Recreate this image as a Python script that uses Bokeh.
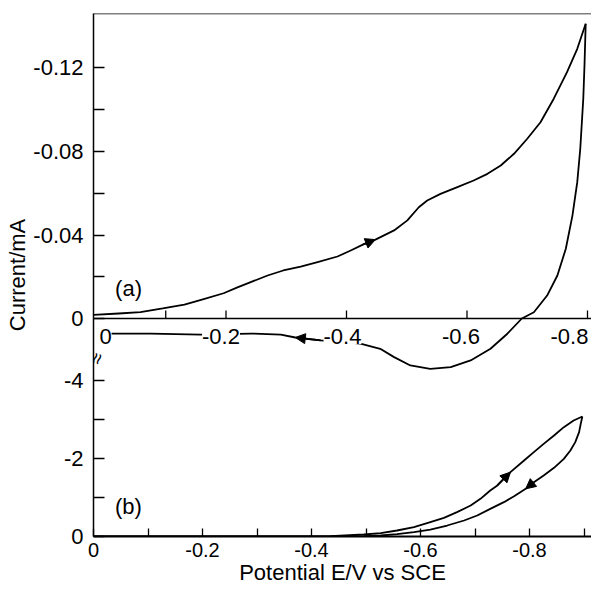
import math
from bokeh.plotting import figure
from bokeh.models import (Range1d, FixedTicker, Span, Label, LabelSet,
                          ColumnDataSource, Arrow, NormalHead)
from bokeh.core.properties import value
from bokeh.embed import file_html
from bokeh.resources import INLINE

# ---------------- data (potential in V vs SCE, current in mA) ----------------
# panel (a): forward scan 0 -> -0.8 V
a_fwd_E = [0.020, -0.022, -0.058, -0.095, -0.131, -0.163, -0.196, -0.219, -0.241,
           -0.269, -0.295, -0.324, -0.352, -0.385, -0.407, -0.428, -0.448, -0.479,
           -0.501, -0.520, -0.534, -0.556, -0.584, -0.611, -0.634, -0.656, -0.678,
           -0.700, -0.722, -0.744, -0.766, -0.783, -0.797]
a_fwd_I = [-0.0017, -0.0024, -0.0031, -0.0048, -0.0067, -0.0093, -0.0121, -0.0149,
           -0.0174, -0.0206, -0.0230, -0.0249, -0.0270, -0.0297, -0.0326, -0.0355,
           -0.0378, -0.0422, -0.0470, -0.0533, -0.0565, -0.0597, -0.0629, -0.0661,
           -0.0693, -0.0733, -0.0789, -0.0861, -0.0940, -0.1053, -0.1180, -0.1292,
           -0.1412]
# panel (a): reverse scan -0.8 -> 0 V
a_rev_E = [-0.797, -0.795, -0.793, -0.788, -0.783, -0.775, -0.764, -0.750, -0.733,
           -0.711, -0.691, -0.667, -0.639, -0.606, -0.573, -0.539, -0.506, -0.479,
           -0.456, -0.423, -0.357, -0.315, -0.291, -0.241, -0.158, -0.075, 0.000]
a_rev_I = [-0.1412, -0.1212, -0.1053, -0.0813, -0.0653, -0.0493, -0.0334, -0.0206,
           -0.0110, -0.0030, 0.0000, 0.0073, 0.0145, 0.0201, 0.0233, 0.0241, 0.0225,
           0.0185, 0.0145, 0.0120, 0.0105, 0.0091, 0.0077, 0.0072, 0.0077, 0.0072,
           0.0072]
# panel (b): forward scan 0 -> -0.9 V
b_fwd_E = [0.000, -0.435, -0.496, -0.527, -0.557, -0.588, -0.618, -0.643, -0.667,
           -0.692, -0.710, -0.728, -0.741, -0.765, -0.790, -0.808, -0.826, -0.845,
           -0.863, -0.881, -0.897]
b_fwd_I = [0.000, -0.008, -0.051, -0.085, -0.154, -0.239, -0.368, -0.479, -0.624,
           -0.795, -0.966, -1.179, -1.308, -1.650, -1.949, -2.162, -2.376, -2.590,
           -2.803, -2.974, -3.077]
# panel (b): reverse scan -0.9 -> 0 V
b_rev_E = [-0.897, -0.894, -0.891, -0.884, -0.875, -0.863, -0.845, -0.826, -0.808,
           -0.793, -0.771, -0.753, -0.728, -0.704, -0.680, -0.649, -0.618, -0.588,
           -0.557, -0.527, -0.496, -0.466, 0.000]
b_rev_I = [-3.077, -2.889, -2.675, -2.419, -2.205, -1.991, -1.761, -1.564, -1.393,
           -1.222, -1.026, -0.880, -0.709, -0.538, -0.410, -0.282, -0.179, -0.111,
           -0.060, -0.026, -0.008, 0.000, 0.000]

# arrow positions (index of the arrow tip in each curve)
arrow_a_fwd = 16
arrow_a_rev = 21
arrow_b_fwd = 13
arrow_b_rev = 9

# ticks
a_y_ticks = [-0.12, -0.08, -0.04, 0.0]
a_y_labels = ["-0.12", "-0.08", "-0.04", "0"]
a_y_minor = [-0.10, -0.06, -0.02]
b_y_ticks = [0.0, -2.0, -4.0]
b_y_labels = ["0", "-2", "-4"]
b_y_minor = [-1.0, -3.0]
b_x_ticks = [0.0, -0.2, -0.4, -0.6, -0.8]
b_x_labels = ["0", "-0.2", "-0.4", "-0.6", "-0.8"]
b_x_minor = [-0.1, -0.3, -0.5, -0.7, -0.9]
a_x_tickmarks = [-0.1, -0.2, -0.4, -0.6, -0.8]
a_x_ticks = [0.0, -0.2, -0.4, -0.6, -0.8]
a_x_labels = ["0", "-0.2", "-0.4", "-0.6", "-0.8"]

# ---------------- layout / style constants ----------------
W, H = 591, 589
BL, BT, BB, BR = 93, 13, 53, 0
FW, FH = W - BL - BR, H - BT - BB
PXV_B, PXI_B = 545.0, 39.0          # px per V, px per mA (panel b)
PXV_A, PXI_A = 602.5, 2087.5        # px per V, px per mA (panel a)
A_X0, A_Y0 = 12.0, 218.0            # px of panel-a origin from frame left / bottom
FONT = "Liberation Sans"
LW = 1.8
mid_label_dx = [0, -5, -4, -6, -18]   # screen offsets of the in-plot tick labels

x_b = Range1d(0, -FW / PXV_B)
y_b = Range1d(0, -FH / PXI_B)
x_a = Range1d(A_X0 / PXV_A, -(FW - A_X0) / PXV_A)
y_a = Range1d(A_Y0 / PXI_A, -(FH - A_Y0) / PXI_A)


def a_to_b_y(v):
    """panel-a current -> panel-b axis coordinate (same screen position)"""
    return round(-(A_Y0 - v * PXI_A) / PXI_B, 6)


p = figure(width=W, height=H, x_range=x_b, y_range=y_b,
           output_backend="svg", toolbar_location=None,
           min_border_left=BL, min_border_right=BR,
           min_border_top=BT, min_border_bottom=BB)
p.extra_x_ranges = {"a": x_a}
p.extra_y_ranges = {"a": y_a}
p.outline_line_color = None
p.background_fill_color = "white"
p.border_fill_color = "white"
p.xgrid.visible = False
p.ygrid.visible = False

# ---------------- left axis (shared, broken) ----------------
ticks_a_pos = [a_to_b_y(v) for v in a_y_ticks]
minor_a_pos = [a_to_b_y(v) for v in a_y_minor]
yax = p.yaxis[0]
yax.ticker = FixedTicker(ticks=ticks_a_pos + b_y_ticks, minor_ticks=minor_a_pos + b_y_minor)
overrides = {}
for pos, lab in zip(ticks_a_pos, a_y_labels):
    overrides[pos] = lab
for pos, lab in zip(b_y_ticks, b_y_labels):
    overrides[pos] = lab
yax.major_label_overrides = overrides
yax.major_tick_in = 11
yax.major_tick_out = 0
yax.minor_tick_in = 11
yax.minor_tick_out = 0
yax.major_label_standoff = 10
yax.major_label_text_font = FONT
yax.major_label_text_font_size = "22px"
yax.major_label_text_color = "black"
yax.axis_line_width = 1.5
yax.axis_line_color = "black"
yax.major_tick_line_width = 1.3
yax.minor_tick_line_width = 1.3
yax.axis_label = "Current/mA"
yax.axis_label_standoff = 0
yax.axis_label_text_font = FONT
yax.axis_label_text_font_style = "normal"
yax.axis_label_text_font_size = "22px"
yax.axis_label_text_color = "black"

# ---------------- bottom axis (panel b) ----------------
xax = p.xaxis[0]
xax.ticker = FixedTicker(ticks=b_x_ticks, minor_ticks=b_x_minor)
xax.major_label_overrides = {t: l for t, l in zip(b_x_ticks, b_x_labels)}
xax.major_tick_in = 8
xax.major_tick_out = 0
xax.minor_tick_in = 8
xax.minor_tick_out = 0
xax.major_label_standoff = 6
xax.major_label_text_font = FONT
xax.major_label_text_font_size = "20px"
xax.major_label_text_color = "black"
xax.axis_line_width = 1.8
xax.axis_line_color = "black"
xax.major_tick_line_width = 1.3
xax.minor_tick_line_width = 1.3
xax.axis_label = "Potential E/V vs SCE"
xax.axis_label_standoff = 0
xax.axis_label_text_font = FONT
xax.axis_label_text_font_style = "normal"
xax.axis_label_text_font_size = "22px"
xax.axis_label_text_color = "black"

# top border
p.add_layout(Span(location=y_b.end, dimension="width", line_color="black", line_width=1.5))

# ---------------- middle axis (panel a, drawn in the plot) ----------------
p.add_layout(Span(location=0, dimension="width", y_range_name="a",
                  line_color="black", line_width=1.4))
p.segment(x0=a_x_tickmarks, y0=[0.0] * len(a_x_tickmarks),
          x1=a_x_tickmarks, y1=[-8.0 / PXI_A] * len(a_x_tickmarks),
          x_range_name="a", y_range_name="a", line_color="black", line_width=1.3)

# ---------------- curves ----------------
p.line(a_fwd_E, a_fwd_I, x_range_name="a", y_range_name="a", line_color="black",
       line_width=LW, line_join="round")
p.line(a_rev_E, a_rev_I, x_range_name="a", y_range_name="a", line_color="black",
       line_width=LW, line_join="round")
p.line(b_fwd_E, b_fwd_I, line_color="black", line_width=LW, line_join="round")
p.line(b_rev_E, b_rev_I, line_color="black", line_width=LW, line_join="round")


def add_arrow(xs, ys, i, rn=None):
    kw = {}
    if rn:
        kw = dict(x_range_name=rn, y_range_name=rn)
    p.add_layout(Arrow(end=NormalHead(size=10, fill_color="black", line_color="black"),
                       x_start=xs[i - 1], y_start=ys[i - 1], x_end=xs[i], y_end=ys[i],
                       line_color="black", line_width=LW, **kw))


add_arrow(a_fwd_E, a_fwd_I, arrow_a_fwd, "a")
add_arrow(a_rev_E, a_rev_I, arrow_a_rev, "a")
add_arrow(b_fwd_E, b_fwd_I, arrow_b_fwd)
add_arrow(b_rev_E, b_rev_I, arrow_b_rev)

# middle-axis labels with white boxes (interrupting the return scan)
mid_src = ColumnDataSource(dict(x=a_x_ticks, y=[0.0] * len(a_x_ticks), t=a_x_labels,
                                dx=mid_label_dx))
p.add_layout(LabelSet(x="x", y="y", text="t", source=mid_src, x_range_name="a", y_range_name="a",
                      x_offset="dx", y_offset=-18, text_align="center", text_baseline="middle",
                      text_font=value(FONT), text_font_size="22px", text_color="black",
                      background_fill_color="white"))

# panel tags
p.add_layout(Label(x=-0.0382, y=-0.0144, x_range_name="a", y_range_name="a", text="(a)",
                   text_align="center", text_baseline="middle", text_font=FONT,
                   text_font_size="22px", text_color="black"))
p.add_layout(Label(x=-0.0642, y=-0.769, text="(b)", text_align="center", text_baseline="middle",
                   text_font=FONT, text_font_size="22px", text_color="black"))

# axis break mark on the left axis
p.add_layout(Label(x=0, y=-(536 - 358) / PXI_B, x_offset=3, text="≈", angle=1.25,
                   text_align="center", text_baseline="middle", text_font=FONT,
                   text_font_size="20px", text_color="black"))

open("out.html", "w").write(file_html(p, INLINE))
